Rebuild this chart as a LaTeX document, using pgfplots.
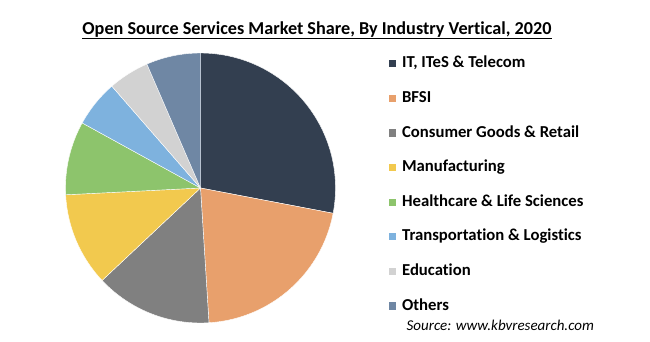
\documentclass[border=0pt]{standalone}
\usepackage{pgfplots}
\pgfplotsset{compat=1.18}
\usepackage{fontspec}
\setmainfont{Carlito}[Ligatures=NoCommon]
\definecolor{cIT}{HTML}{333F50}
\definecolor{cBF}{HTML}{E8A06C}
\definecolor{cCG}{HTML}{808080}
\definecolor{cMF}{HTML}{F2C94E}
\definecolor{cHC}{HTML}{8DC46C}
\definecolor{cTL}{HTML}{7EB2DE}
\definecolor{cED}{HTML}{D2D2D2}
\definecolor{cOT}{HTML}{6F87A4}
\newcommand\cum{0}
\newcommand\slice[2]{%
 \pgfmathsetmacro\sa{\cum}%
 \pgfmathsetmacro\sb{\cum+#1}%
 \edef\temp{\noexpand\addplot[fill=#2,draw=white,line width=0.4pt,domain=\sa:\sb,samples=80] ({135*sin(3.6*x)},{135*cos(3.6*x)}) -- (0,0) -- cycle;}%
 \temp
 \global\let\cum\sb
}
\begin{document}
\begin{tikzpicture}
\useasboundingbox (0,0) rectangle (650pt,341pt);
\begin{axis}[at={(200.5pt,153pt)}, anchor=center, x=1pt, y=1pt,
  xmin=-135, xmax=135, ymin=-135, ymax=135, hide axis, clip=false,
  legend cell align=left,
  legend image code/.code={\path[#1,draw=none] (0pt,-3.6pt) rectangle (7.2pt,3.6pt);},
  legend style={at={(1.197,0.994)}, anchor=north west, draw=none, fill=none,
    inner sep=0pt, row sep=16.6pt,
    font=\bfseries\fontsize{16.7}{19}\selectfont,
    nodes={inner sep=2pt, text height=11pt, text depth=3pt},
    /tikz/every odd column/.append style={column sep=4pt}},
]
\slice{28.0}{cIT}
\slice{21.0}{cBF}
\slice{14.0}{cCG}
\slice{11.2}{cMF}
\slice{8.8}{cHC}
\slice{5.6}{cTL}
\slice{4.9}{cED}
\slice{6.5}{cOT}
\legend{{IT, ITeS \& Telecom},BFSI,{Consumer Goods \& Retail},Manufacturing,{Healthcare \& Life Sciences},{Transportation \& Logistics},Education,Others}
\end{axis}
\node[font=\bfseries\fontsize{18.2}{21}\selectfont, anchor=base, inner sep=0pt] at (317pt,307pt) {\underline{Open Source Services Market Share, By Industry Vertical, 2020}};
\node[font=\itshape\fontsize{15}{18}\selectfont, anchor=base west, inner sep=0pt] at (406.5pt,11pt) {Source: www.kbvresearch.com};
\end{tikzpicture}
\end{document}
